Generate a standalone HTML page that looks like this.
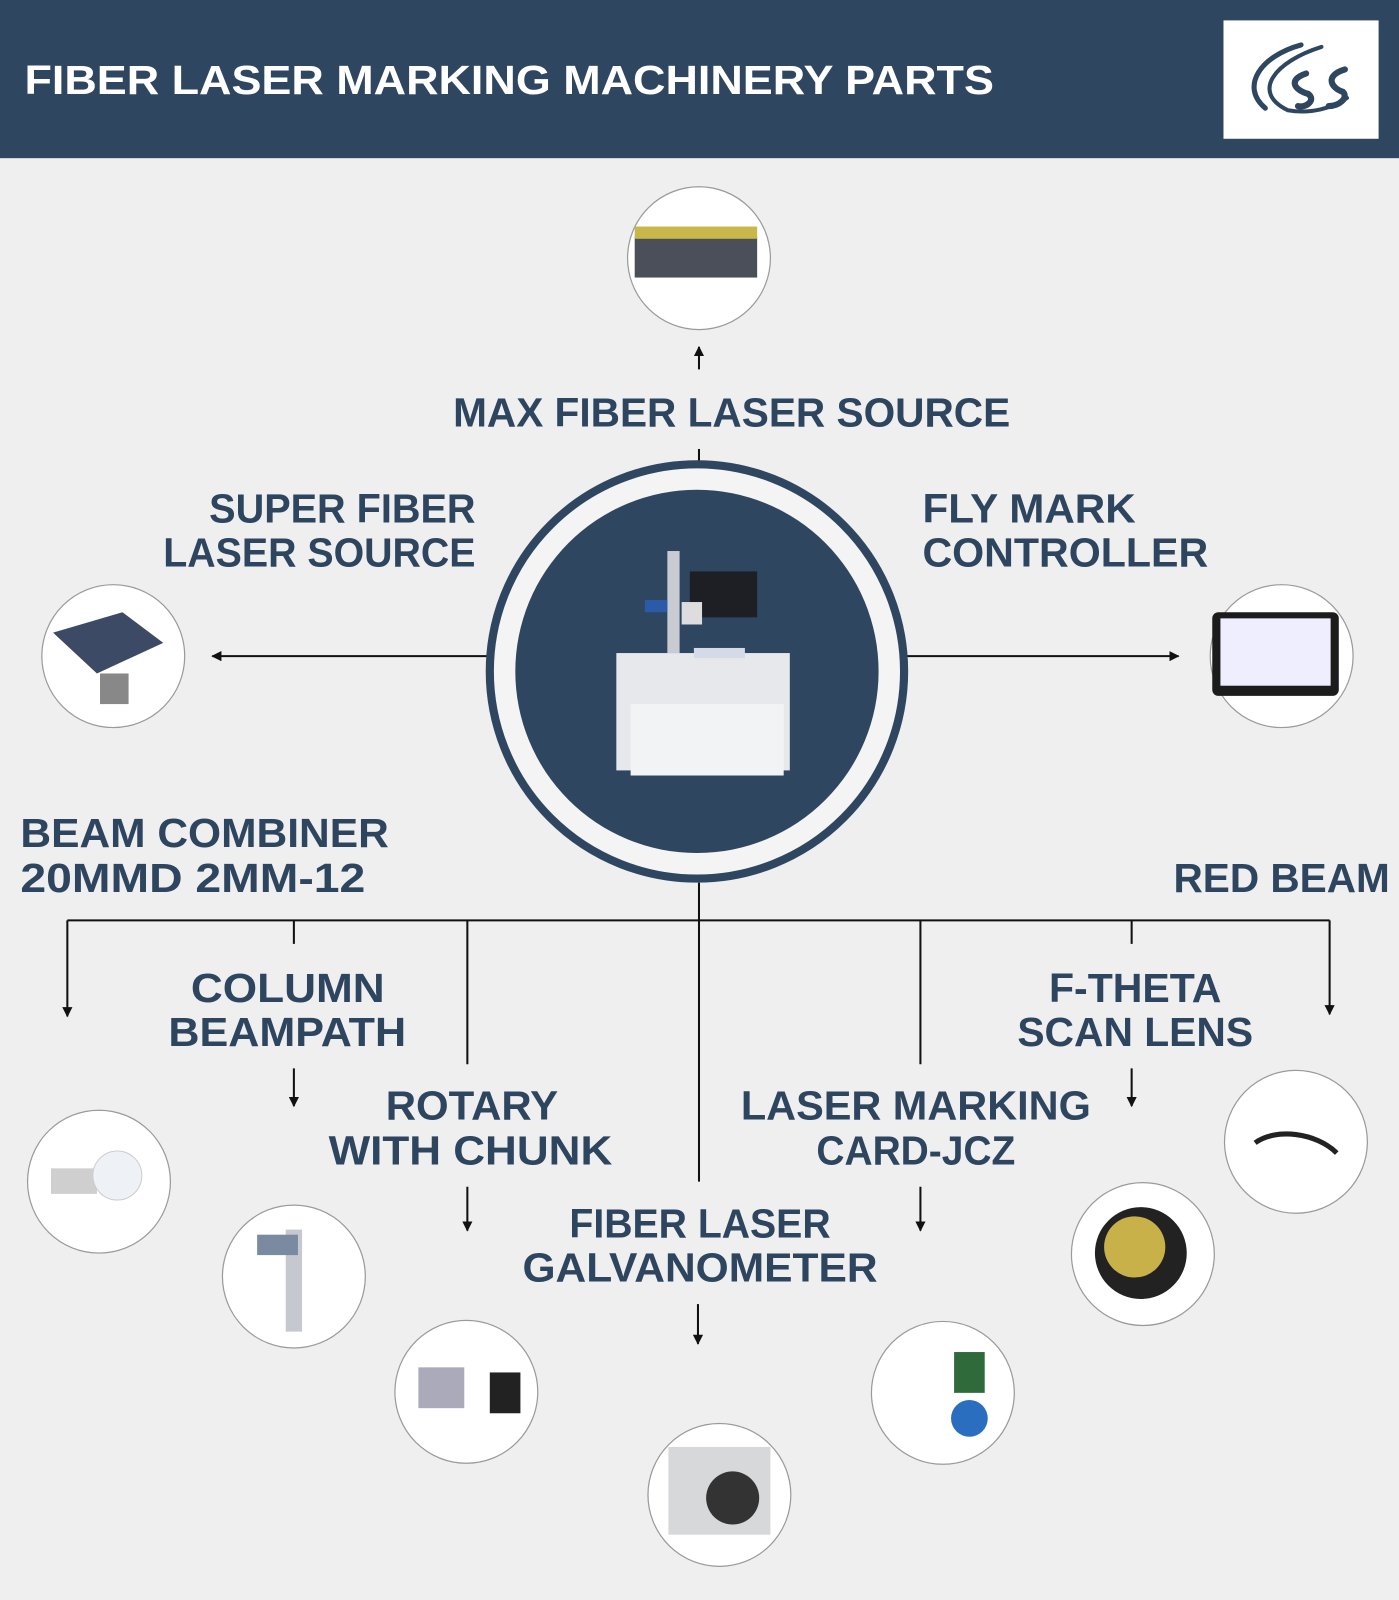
<!DOCTYPE html>
<html><head><meta charset="utf-8"><style>
html,body{margin:0;padding:0;background:#efefef;}
svg{display:block}
text{font-family:"Liberation Sans",sans-serif;font-weight:bold;fill:#2e4560;}
</style></head><body>
<svg width="1399" height="1600" viewBox="0 0 1371 1568" preserveAspectRatio="none" xmlns="http://www.w3.org/2000/svg">
<defs>
<marker id="a" markerWidth="10" markerHeight="10" refX="9" refY="5" orient="auto" markerUnits="userSpaceOnUse"><path d="M0,0 L10,5 L0,10 z" fill="#111"/></marker>
</defs>
<rect width="1371" height="1568" fill="#efefef"/>
<rect width="1371" height="155" fill="#2f4661"/>
<text x="24" y="92" font-size="40" textLength="950" lengthAdjust="spacingAndGlyphs" style="fill:#fff">FIBER LASER MARKING MACHINERY PARTS</text>
<rect x="1199" y="20" width="152" height="116" fill="#fff"/>
<g fill="none" stroke="#2f4661" stroke-linecap="round">
<path d="M1275,44 C1235,55 1215,85 1240,106" stroke-width="5"/>
<path d="M1295,46 C1250,60 1225,90 1262,108 C1285,112 1305,106 1320,96" stroke-width="4"/>
<path d="M1280,72 C1262,78 1268,88 1282,92 C1290,98 1280,106 1272,104" stroke-width="6"/>
<path d="M1318,68 C1298,74 1304,86 1316,90 C1322,96 1312,104 1302,104" stroke-width="6"/>
</g>
<g stroke="#111" stroke-width="2" fill="none">
<line x1="685" y1="362" x2="685" y2="340" marker-end="url(#a)"/>
<line x1="685" y1="440" x2="685" y2="456"/>
<line x1="480" y1="643" x2="208" y2="643" marker-end="url(#a)"/>
<line x1="888" y1="643" x2="1155" y2="643" marker-end="url(#a)"/>
<line x1="685" y1="865" x2="685" y2="902"/>
<line x1="66" y1="902" x2="1303" y2="902"/>
<line x1="66" y1="902" x2="66" y2="996" marker-end="url(#a)"/>
<line x1="288" y1="902" x2="288" y2="925"/>
<line x1="458" y1="902" x2="458" y2="1043"/>
<line x1="685" y1="902" x2="685" y2="1158"/>
<line x1="902" y1="902" x2="902" y2="1043"/>
<line x1="1109" y1="902" x2="1109" y2="925"/>
<line x1="1303" y1="902" x2="1303" y2="994" marker-end="url(#a)"/>
<line x1="288" y1="1047" x2="288" y2="1084" marker-end="url(#a)"/>
<line x1="458" y1="1163" x2="458" y2="1206" marker-end="url(#a)"/>
<line x1="684" y1="1278" x2="684" y2="1317" marker-end="url(#a)"/>
<line x1="902" y1="1163" x2="902" y2="1206" marker-end="url(#a)"/>
<line x1="1109" y1="1047" x2="1109" y2="1084" marker-end="url(#a)"/>
</g>
<circle cx="683" cy="658" r="203" fill="#f4f4f4" stroke="#2f4661" stroke-width="8"/>
<circle cx="683" cy="658" r="178" fill="#2f4661"/>
<rect x="654" y="540" width="12" height="100" fill="#c8ccd2"/>
<rect x="676" y="560" width="66" height="45" fill="#1d1f24"/>
<rect x="632" y="588" width="22" height="12" fill="#2a5aa8"/>
<rect x="668" y="590" width="20" height="22" fill="#ddd"/>
<rect x="604" y="640" width="170" height="115" fill="#e6e8eb"/>
<rect x="618" y="690" width="150" height="70" fill="#f2f3f5"/>
<rect x="680" y="635" width="50" height="10" fill="#d4dbe6"/>
<g fill="#fff" stroke="#9a9a9a" stroke-width="1.2">
<circle cx="685" cy="253" r="70"/>
<circle cx="111" cy="643" r="70"/>
<circle cx="1256" cy="643" r="70"/>
<circle cx="97" cy="1158" r="70"/>
<circle cx="288" cy="1251" r="70"/>
<circle cx="457" cy="1364" r="70"/>
<circle cx="705" cy="1465" r="70"/>
<circle cx="924" cy="1365" r="70"/>
<circle cx="1120" cy="1229" r="70"/>
<circle cx="1270" cy="1119" r="70"/>
</g>
<rect x="622" y="232" width="120" height="40" fill="#4a4f5a"/><rect x="622" y="222" width="120" height="12" fill="#c8b84a"/>
<path d="M52,620 L120,600 L160,630 L95,660 z" fill="#3d4a66"/><rect x="98" y="660" width="28" height="30" fill="#888"/>
<rect x="1188" y="600" width="124" height="82" rx="6" fill="#1c1c1c"/><rect x="1196" y="606" width="108" height="66" fill="#eef"/>
<rect x="50" y="1145" width="45" height="25" fill="#cfcfcf"/><circle cx="115" cy="1152" r="24" fill="#eef2f6" stroke="#ccc"/>
<rect x="280" y="1205" width="16" height="100" fill="#c5c9cf"/><rect x="252" y="1210" width="40" height="20" fill="#7a8aa0"/>
<rect x="410" y="1340" width="45" height="40" fill="#aab"/><rect x="480" y="1345" width="30" height="40" fill="#222"/>
<rect x="655" y="1418" width="100" height="86" fill="#d6d8da"/><circle cx="718" cy="1468" r="26" fill="#333"/>
<rect x="935" y="1325" width="30" height="40" fill="#2e6a3a"/><circle cx="950" cy="1390" r="18" fill="#2a6ec0"/>
<circle cx="1118" cy="1228" r="45" fill="#222"/><circle cx="1112" cy="1222" r="30" fill="#c9b14a"/>
<path d="M1230,1120 C1250,1105 1290,1110 1310,1130" stroke="#222" stroke-width="5" fill="none"/>
<g font-size="40" lengthAdjust="spacingAndGlyphs">
<text x="717" y="418" text-anchor="middle" textLength="546" lengthAdjust="spacingAndGlyphs">MAX FIBER LASER SOURCE</text>
<text x="205" y="512" textLength="261" lengthAdjust="spacingAndGlyphs">SUPER FIBER</text>
<text x="160" y="555" textLength="306" lengthAdjust="spacingAndGlyphs">LASER SOURCE</text>
<text x="904" y="512" textLength="209" lengthAdjust="spacingAndGlyphs">FLY MARK</text>
<text x="904" y="555" textLength="280" lengthAdjust="spacingAndGlyphs">CONTROLLER</text>
<text x="20" y="830" textLength="361" lengthAdjust="spacingAndGlyphs">BEAM COMBINER</text>
<text x="20" y="874" textLength="338" lengthAdjust="spacingAndGlyphs">20MMD 2MM-12</text>
<text x="1150" y="874" textLength="212" lengthAdjust="spacingAndGlyphs">RED BEAM</text>
<text x="187" y="982" textLength="190" lengthAdjust="spacingAndGlyphs">COLUMN</text>
<text x="165" y="1025" textLength="233" lengthAdjust="spacingAndGlyphs">BEAMPATH</text>
<text x="378" y="1097" textLength="169" lengthAdjust="spacingAndGlyphs">ROTARY</text>
<text x="322" y="1141" textLength="278" lengthAdjust="spacingAndGlyphs">WITH CHUNK</text>
<text x="558" y="1213" textLength="256" lengthAdjust="spacingAndGlyphs">FIBER LASER</text>
<text x="512" y="1256" textLength="348" lengthAdjust="spacingAndGlyphs">GALVANOMETER</text>
<text x="726" y="1097" textLength="343" lengthAdjust="spacingAndGlyphs">LASER MARKING</text>
<text x="800" y="1141" textLength="195" lengthAdjust="spacingAndGlyphs">CARD-JCZ</text>
<text x="1028" y="982" textLength="169" lengthAdjust="spacingAndGlyphs">F-THETA</text>
<text x="997" y="1025" textLength="231" lengthAdjust="spacingAndGlyphs">SCAN LENS</text>
</g>
</svg>
</body></html>
